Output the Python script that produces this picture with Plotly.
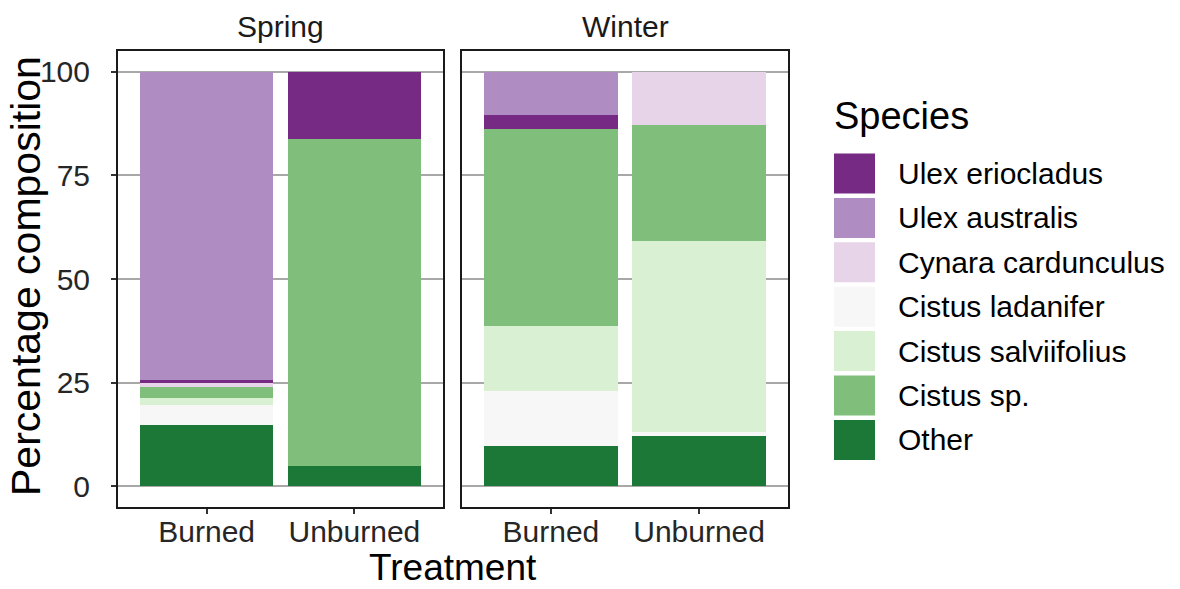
import plotly.graph_objects as go

W, H = 1180, 589

species = ["Ulex eriocladus", "Ulex australis", "Cynara cardunculus",
           "Cistus ladanifer", "Cistus salviifolius", "Cistus sp.", "Other"]
colors = ["#762a83", "#af8dc3", "#e7d4e8", "#f7f7f7", "#d9f0d3", "#7fbf7b", "#1b7837"]
# order in which the segments are stacked, bottom to top
stack_order = ["Other", "Cistus ladanifer", "Cistus salviifolius", "Cistus sp.",
               "Cynara cardunculus", "Ulex eriocladus", "Ulex australis"]
treatments = ["Burned", "Unburned"]
seasons = ["Spring", "Winter"]

# percentage composition per species, [Burned, Unburned]
spring = {
    "Ulex eriocladus": [0.8, 16.3],
    "Ulex australis": [74.4, 0.0],
    "Cynara cardunculus": [0.8, 0.0],
    "Cistus ladanifer": [4.8, 0.0],
    "Cistus salviifolius": [1.8, 0.0],
    "Cistus sp.": [2.6, 78.7],
    "Other": [14.8, 5.0],
}
winter = {
    "Ulex eriocladus": [3.4, 0.0],
    "Ulex australis": [10.5, 0.0],
    "Cynara cardunculus": [0.0, 12.8],
    "Cistus ladanifer": [13.3, 0.8],
    "Cistus salviifolius": [15.5, 46.1],
    "Cistus sp.": [47.5, 28.1],
    "Other": [9.8, 12.2],
}
y_ticks = [0, 25, 50, 75, 100]

FONT = "Liberation Sans, Arial, sans-serif"
color_of = dict(zip(species, colors))


def px(x):
    return x / W


def py(y):
    return 1 - y / H


fig = go.Figure()
for data, xa, ya in [(spring, "x", "y"), (winter, "x2", "y2")]:
    for sp in stack_order:
        fig.add_trace(go.Bar(
            x=treatments, y=data[sp], name=sp,
            marker=dict(color=color_of[sp], line=dict(width=0)),
            xaxis=xa, yaxis=ya, showlegend=False,
        ))

panel1 = [px(118), px(443)]
panel2 = [px(462), px(788)]
ydom = [py(507), py(51)]

xcommon = dict(
    type="category", range=[-0.6, 1.6], showgrid=False, zeroline=False,
    showline=True, mirror=True, linecolor="#1a1a1a", linewidth=2,
    ticks="outside", ticklen=5, tickwidth=1.5, tickcolor="#333333",
    tickfont=dict(family=FONT, size=30, color="#262626"), ticklabelstandoff=-8,
    fixedrange=True,
)
ycommon = dict(
    range=[-5, 105], tickvals=y_ticks, showgrid=True, gridcolor="#a8a8a8", gridwidth=1.5,
    zeroline=False, showline=True, mirror=True, linecolor="#1a1a1a", linewidth=2,
    fixedrange=True,
)

fig.update_layout(
    width=W, height=H, margin=dict(l=0, r=0, t=0, b=0),
    paper_bgcolor="white", plot_bgcolor="white",
    barmode="stack", bargap=0.1,
    xaxis=dict(domain=panel1, anchor="y", **xcommon),
    xaxis2=dict(domain=panel2, anchor="y2", **xcommon),
    yaxis=dict(domain=ydom, anchor="x", ticks="outside", ticklen=5, tickwidth=1.5,
               tickcolor="#333333", ticklabelstandoff=15,
               tickfont=dict(family=FONT, size=30, color="#262626"), **ycommon),
    yaxis2=dict(domain=ydom, anchor="x2", showticklabels=False, ticks="", **ycommon),
    font=dict(family=FONT),
)

ann = []
# strip labels
for name, dom in zip(seasons, [panel1, panel2]):
    ann.append(dict(text=name, x=(dom[0] + dom[1]) / 2, y=py(27), xref="paper", yref="paper",
                    showarrow=False, xanchor="center", yanchor="middle",
                    font=dict(family=FONT, size=30, color="#1a1a1a")))
# axis titles
ann.append(dict(text="Treatment", x=(panel1[0] + panel2[1]) / 2, y=py(567), xref="paper", yref="paper",
                showarrow=False, xanchor="center", yanchor="middle",
                font=dict(family=FONT, size=37, color="black")))
ann.append(dict(text="Percentage composition", x=px(26), y=py(276), xref="paper", yref="paper",
                showarrow=False, xanchor="center", yanchor="middle", textangle=-90,
                font=dict(family=FONT, size=41, color="black")))
# legend
ann.append(dict(text="Species", x=px(832), y=py(116), xref="paper", yref="paper",
                showarrow=False, xanchor="left", yanchor="middle",
                font=dict(family=FONT, size=38, color="black")))
shapes = []
key_top0, key_step, key_h = 153.5, 44.4, 40
for i, sp in enumerate(species):
    top = key_top0 + i * key_step
    shapes.append(dict(type="rect", xref="paper", yref="paper",
                       x0=px(834), x1=px(875), y0=py(top + key_h), y1=py(top),
                       fillcolor=color_of[sp], line=dict(width=0)))
    ann.append(dict(text=sp, x=px(896), y=py(top + key_h / 2), xref="paper", yref="paper",
                    showarrow=False, xanchor="left", yanchor="middle",
                    font=dict(family=FONT, size=30, color="black")))

fig.update_layout(annotations=ann, shapes=shapes)
fig.write_html("out.html", config={"displayModeBar": False},
               post_script="document.body.style.margin='0';")
